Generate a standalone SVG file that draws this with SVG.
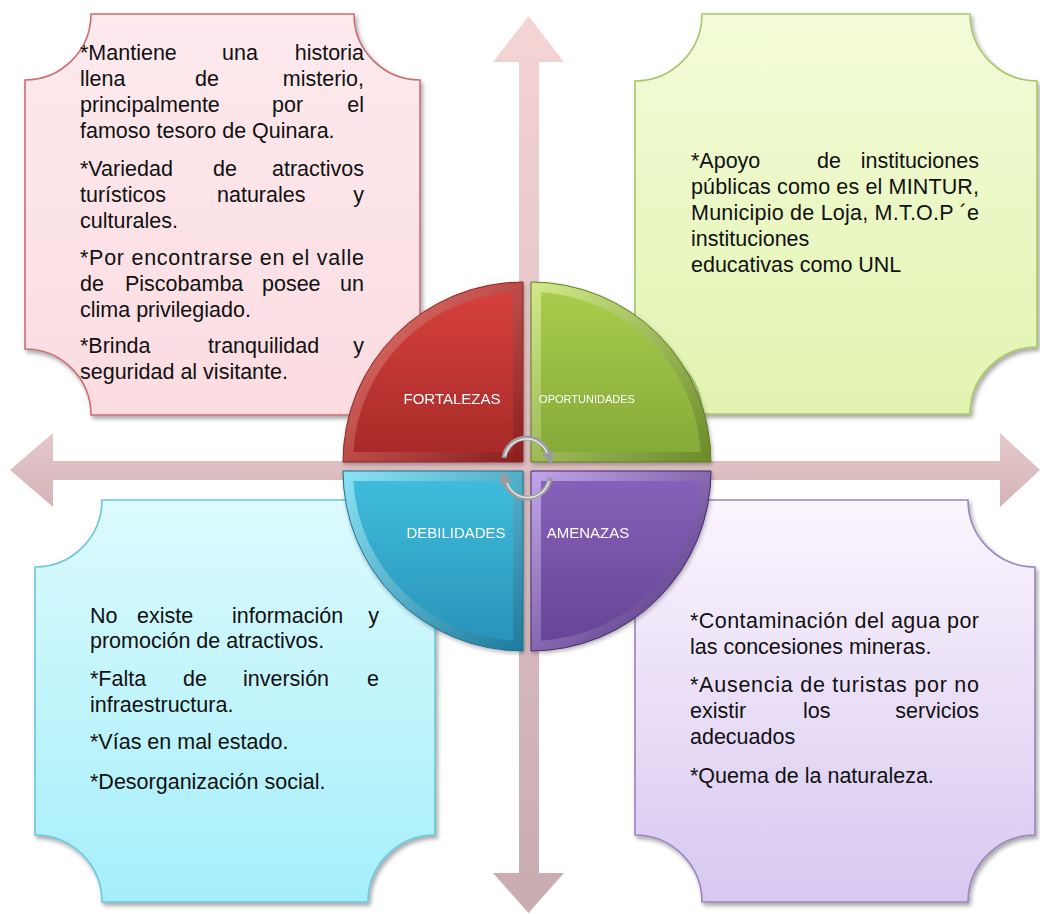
<svg xmlns="http://www.w3.org/2000/svg" width="1040" height="914" viewBox="0 0 1040 914">
<defs>
<style>
.t{font-family:"Liberation Sans",Arial,sans-serif;font-size:21.5px;fill:#111}
.e{text-anchor:end}
.lab{font-family:"Liberation Sans",Arial,sans-serif;fill:#fff;text-anchor:middle}
.box{stroke-width:1.6}
.carc{fill:none;stroke:#9c9c9c;stroke-width:5;stroke-linecap:butt}
.carc2{fill:none;stroke:#e4e4e4;stroke-width:1.6}
</style>
<filter id="sh" x="-10%" y="-10%" width="125%" height="125%">
<feDropShadow dx="2" dy="3" stdDeviation="2" flood-color="#000" flood-opacity="0.35"/>
</filter>
<filter id="sh2" x="-10%" y="-10%" width="125%" height="125%">
<feDropShadow dx="1" dy="2" stdDeviation="2" flood-color="#000" flood-opacity="0.3"/>
</filter>
<linearGradient id="gPink" x1="0" y1="0" x2="0" y2="1"><stop offset="0" stop-color="#fdeaee"/><stop offset="1" stop-color="#fbdce1"/></linearGradient>
<linearGradient id="gGreen" x1="0" y1="0" x2="0" y2="1"><stop offset="0" stop-color="#f3fbd9"/><stop offset="1" stop-color="#e2f4b0"/></linearGradient>
<linearGradient id="gCyan" x1="0" y1="0" x2="0" y2="1"><stop offset="0" stop-color="#dcfbfe"/><stop offset="1" stop-color="#a5eef9"/></linearGradient>
<linearGradient id="gPurp" x1="0" y1="0" x2="0" y2="1"><stop offset="0" stop-color="#fbf5fe"/><stop offset="1" stop-color="#d8c8f0"/></linearGradient>
<linearGradient id="gV" x1="0" y1="0" x2="0" y2="1"><stop offset="0" stop-color="#f5d4d4"/><stop offset="0.5" stop-color="#dfc0c3"/><stop offset="1" stop-color="#c8acb0"/></linearGradient>
<linearGradient id="gH" x1="0" y1="0" x2="0" y2="1"><stop offset="0" stop-color="#e6c8ca"/><stop offset="1" stop-color="#d4b4b8"/></linearGradient>
<linearGradient id="rO" x1="0" y1="0" x2="1" y2="1"><stop offset="0" stop-color="#ec7a74"/><stop offset="1" stop-color="#8a1e1c"/></linearGradient>
<linearGradient id="rI" x1="0" y1="0" x2="0" y2="1"><stop offset="0" stop-color="#d6403d"/><stop offset="1" stop-color="#a82b29"/></linearGradient>
<linearGradient id="grO" x1="0" y1="0" x2="1" y2="1"><stop offset="0" stop-color="#d2ea8a"/><stop offset="1" stop-color="#6a8a28"/></linearGradient>
<linearGradient id="grI" x1="0" y1="0" x2="0" y2="1"><stop offset="0" stop-color="#a9cc4c"/><stop offset="1" stop-color="#86aa38"/></linearGradient>
<linearGradient id="bO" x1="0" y1="0" x2="1" y2="1"><stop offset="0" stop-color="#8ce3f4"/><stop offset="1" stop-color="#1d7a9c"/></linearGradient>
<linearGradient id="bI" x1="0" y1="0" x2="0" y2="1"><stop offset="0" stop-color="#3fbcdc"/><stop offset="1" stop-color="#2994bb"/></linearGradient>
<linearGradient id="pO" x1="0" y1="0" x2="1" y2="1"><stop offset="0" stop-color="#c1a6ea"/><stop offset="1" stop-color="#4b2b76"/></linearGradient>
<linearGradient id="pI" x1="0" y1="0" x2="0" y2="1"><stop offset="0" stop-color="#8761b9"/><stop offset="1" stop-color="#684496"/></linearGradient>
<marker id="cah" viewBox="0 0 10 10" refX="2" refY="5" markerWidth="2.6" markerHeight="2.6" orient="auto" markerUnits="strokeWidth">
<path d="M0,0 L10,5 L0,10 z" fill="#9c9c9c"/>
</marker>
</defs>
<rect width="1040" height="914" fill="#fff"/>

<g id="box-fortalezas">
<path class="box" filter="url(#sh)" fill="url(#gPink)" stroke="#c96f73" d="M91,14 H354 A66,66 0 0 0 420,80 V349 A66,66 0 0 0 354,415 H91 A66,66 0 0 0 25,349 V80 A66,66 0 0 0 91,14 Z"/>
<text class="t" y="60"><tspan x="80">*Mantiene</tspan><tspan x="222">una</tspan></text><text class="t e" x="364" y="60">historia</text>
<text class="t" y="86"><tspan x="80">llena</tspan><tspan x="195">de</tspan></text><text class="t e" x="364" y="86">misterio,</text>
<text class="t" y="112"><tspan x="80">principalmente</tspan><tspan x="272">por</tspan></text><text class="t e" x="364" y="112">el</text>
<text class="t" x="80" y="138">famoso tesoro de Quinara.</text>
<text class="t" y="176"><tspan x="80">*Variedad</tspan><tspan x="213">de</tspan></text><text class="t e" x="364" y="176">atractivos</text>
<text class="t" y="202"><tspan x="80">turísticos</tspan><tspan x="217">naturales</tspan></text><text class="t e" x="364" y="202">y</text>
<text class="t" x="80" y="228">culturales.</text>
<text class="t" x="80" y="265" textLength="284" lengthAdjust="spacing">*Por encontrarse en el valle</text>
<text class="t" y="291"><tspan x="80">de</tspan><tspan x="125">Piscobamba</tspan><tspan x="262">posee</tspan></text><text class="t e" x="364" y="291">un</text>
<text class="t" x="80" y="317">clima privilegiado.</text>
<text class="t" y="353"><tspan x="80">*Brinda</tspan><tspan x="208">tranquilidad</tspan></text><text class="t e" x="364" y="353">y</text>
<text class="t" x="80" y="379">seguridad al visitante.</text>
</g>

<g id="box-oportunidades">
<path class="box" filter="url(#sh)" fill="url(#gGreen)" stroke="#a9c56a" d="M702,14 H970 A67,67 0 0 0 1037,81 V347 A67,67 0 0 0 970,414 H702 A67,67 0 0 0 635,347 V81 A67,67 0 0 0 702,14 Z"/>
<text class="t" y="168"><tspan x="691">*Apoyo</tspan><tspan x="817">de</tspan></text><text class="t e" x="979" y="168">instituciones</text>
<text class="t" x="691" y="194" textLength="288" lengthAdjust="spacing">públicas como es el MINTUR,</text>
<text class="t" x="691" y="220" textLength="288" lengthAdjust="spacing">Municipio de Loja, M.T.O.P ´e</text>
<text class="t" x="691" y="246">instituciones</text>
<text class="t" x="691" y="272">educativas como UNL</text>
</g>

<g id="box-debilidades">
<path class="box" filter="url(#sh)" fill="url(#gCyan)" stroke="#6cc6da" d="M102,500 H368 A67,67 0 0 0 435,567 V835 A67,67 0 0 0 368,902 H102 A67,67 0 0 0 35,835 V567 A67,67 0 0 0 102,500 Z"/>
<text class="t" y="623"><tspan x="90">No</tspan><tspan x="137">existe</tspan><tspan x="232">información</tspan></text><text class="t e" x="379" y="623">y</text>
<text class="t" x="90" y="648">promoción de atractivos.</text>
<text class="t" y="686"><tspan x="90">*Falta</tspan><tspan x="183">de</tspan><tspan x="243">inversión</tspan></text><text class="t e" x="379" y="686">e</text>
<text class="t" x="90" y="712">infraestructura.</text>
<text class="t" x="90" y="749">*Vías en mal estado.</text>
<text class="t" x="90" y="789">*Desorganización social.</text>
</g>

<g id="box-amenazas">
<path class="box" filter="url(#sh)" fill="url(#gPurp)" stroke="#9a84bd" d="M702,500 H968 A67,67 0 0 0 1035,567 V835 A67,67 0 0 0 968,902 H702 A67,67 0 0 0 635,835 V567 A67,67 0 0 0 702,500 Z"/>
<text class="t" x="690" y="628" textLength="289" lengthAdjust="spacing">*Contaminación del agua por</text>
<text class="t" x="690" y="654">las concesiones mineras.</text>
<text class="t" x="690" y="692" textLength="289" lengthAdjust="spacing">*Ausencia de turistas por no</text>
<text class="t" y="718"><tspan x="690">existir</tspan><tspan x="803">los</tspan></text><text class="t e" x="979" y="718">servicios</text>
<text class="t" x="690" y="744">adecuados</text>
<text class="t" x="690" y="783">*Quema de la naturaleza.</text>
</g>

<g id="connectors">
<path id="axis-v" fill="url(#gV)" d="M528.5,16 L564,62 L539,62 L539,873 L564,873 L528.5,913 L493,873 L519,873 L519,62 L493,62 Z"/>
<path id="axis-h" fill="url(#gH)" d="M10,470 L53,433 L53,461 L1000,461 L1000,433 L1040,470 L1000,507 L1000,480 L53,480 L53,507 Z"/>
</g>

<g id="swot-circle" filter="url(#sh2)">
<g id="q-fortalezas">
<path fill="url(#rO)" stroke="#8a2624" stroke-width="1" d="M523,462 L343,462 A180,180 0 0 1 523,282 Z"/>
<path fill="url(#rI)" d="M513,452 L353.3,452 A170,170 0 0 1 513,292.3 Z"/>
<text class="lab" x="452" y="404" font-size="15">FORTALEZAS</text>
</g>
<g id="q-oportunidades">
<path fill="url(#grO)" stroke="#5f7d24" stroke-width="1" d="M531,462 L531,282 A180,180 0 0 1 711,462 Z"/>
<path fill="url(#grI)" d="M541,452 L541,292.3 A170,170 0 0 1 700.7,452 Z"/>
<text class="lab" x="587" y="403" font-size="11">OPORTUNIDADES</text>
</g>
<g id="q-debilidades">
<path fill="url(#bO)" stroke="#1d6f8f" stroke-width="1" d="M523,471 L523,651 A180,180 0 0 1 343,471 Z"/>
<path fill="url(#bI)" d="M513,481 L513,640.7 A170,170 0 0 1 353.3,481 Z"/>
<text class="lab" x="456" y="538" font-size="15">DEBILIDADES</text>
</g>
<g id="q-amenazas">
<path fill="url(#pO)" stroke="#45286e" stroke-width="1" d="M531,471 L711,471 A180,180 0 0 1 531,651 Z"/>
<path fill="url(#pI)" d="M541,481 L700.7,481 A170,170 0 0 1 541,640.7 Z"/>
<text class="lab" x="588" y="538" font-size="15">AMENAZAS</text>
</g>
</g>

<g id="cycle-arrows">
<path class="carc" marker-end="url(#cah)" d="M504,458 A23,23 0 0 1 549,455"/>
<path class="carc2" d="M505,456 A22,22 0 0 1 547,453"/>
<path class="carc" marker-end="url(#cah)" d="M550,478 A23,23 0 0 1 505,481"/>
<path class="carc2" d="M549,481 A22,22 0 0 1 507,483"/>
</g>
</svg>
